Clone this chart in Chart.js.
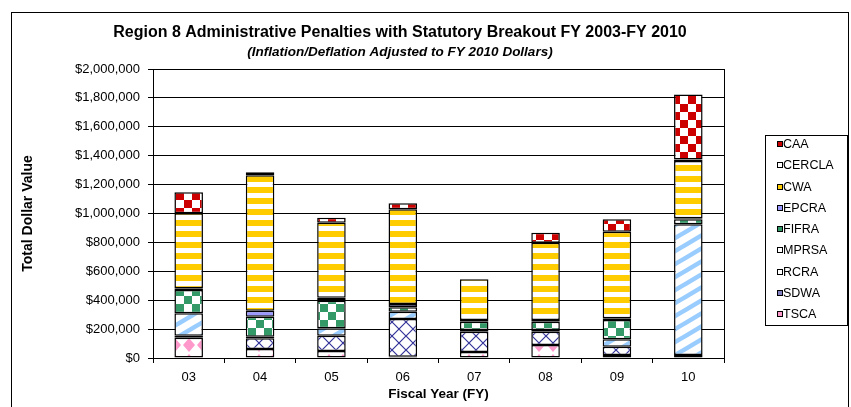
<!DOCTYPE html>
<html>
<head>
<meta charset="utf-8">
<script src="https://cdn.jsdelivr.net/npm/chart.js@4.4.0/dist/chart.umd.min.js"></script>
<style>
  html, body { margin: 0; padding: 0; background: #fff; }
</style>
</head>
<body>
<canvas id="chart-penalties" width="851" height="407"></canvas>
<script>
// Valores (dolares ajustados a FY 2010)
const years = ['03', '04', '05', '06', '07', '08', '09', '10']
const tsca   = [140000,  62000,  48000,   8000,  42000,  90000,  20000,   3000]
const sdwa   = [ 14000,  74000, 106000, 262000, 140000,  92000,  58000,  18000]
const rcra   = [155000,  11000,  52000,  50000,  12000,  12000,  51000, 904000]
const mprsa  = [     0,      0,      0,      0,      0,      0,      0,      0]
const fifra  = [162000, 139000, 191000,  31000,  57000,  57000, 134000,  35000]
const epcra  = [ 11000,  41000,  20000,  23000,  12000,  12000,  12000,   7000]
const cwa    = [519000, 938000, 519000, 655000, 282000, 535000, 599000, 396000]
const cercla = [     0,      0,      0,      0,      0,      0,      0,  10000]
const caa    = [146000,  20000,  35000,  42000,      0,  69000,  86000, 450000]
const yTicks = [0, 200000, 400000, 600000, 800000, 1000000, 1200000, 1400000, 1600000, 1800000, 2000000]

const FONT = '"Liberation Sans", Arial, sans-serif'
const canvas = document.getElementById('chart-penalties')
const mainCtx = canvas.getContext('2d')

// patrones tipo Excel
function pattern(w, h, draw) {
  const c = document.createElement('canvas')
  c.width = w
  c.height = h
  const g = c.getContext('2d')
  g.fillStyle = '#fff'
  g.fillRect(0, 0, w, h)
  draw(g, w, h)
  return mainCtx.createPattern(c, 'repeat')
}
function checker(color, s) {
  return pattern(s * 2, s * 2, g => {
    g.fillStyle = color
    g.fillRect(0, 0, s, s)
    g.fillRect(s, s, s, s)
  })
}
const pTsca = pattern(14, 16, g => {
  g.fillStyle = '#FF99CC'
  g.beginPath()
  g.moveTo(7, 2); g.lineTo(13, 9); g.lineTo(7, 16); g.lineTo(1, 9); g.closePath()
  g.fill()
})
const pSdwa = pattern(14, 14, g => {
  g.strokeStyle = '#333399'
  g.lineWidth = 1.2
  g.beginPath()
  g.moveTo(0, 0); g.lineTo(14, 14)
  g.moveTo(0, 14); g.lineTo(14, 0)
  g.stroke()
})
const pRcra = pattern(22, 13, (g, w, h) => {
  g.strokeStyle = '#99CCFF'
  g.lineWidth = 4.5
  g.beginPath()
  for (let k = -1; k <= 1; k++) {
    g.moveTo(-w, h * 2 + k * h); g.lineTo(w * 2, -h + k * h)
  }
  g.stroke()
})
const pCwa = pattern(4, 11, g => {
  g.fillStyle = '#FFCC00'
  g.fillRect(0, 0, 4, 6)
})

const series = [
  { label: 'TSCA',   data: tsca,   bg: pTsca,                  icon: '#FF99CC' },
  { label: 'SDWA',   data: sdwa,   bg: pSdwa,                  icon: '#8080C0' },
  { label: 'RCRA',   data: rcra,   bg: pRcra,                  icon: '#FFFFFF' },
  { label: 'MPRSA',  data: mprsa,  bg: '#FFFFFF',              icon: '#FFFFFF' },
  { label: 'FIFRA',  data: fifra,  bg: checker('#339966', 8),  icon: '#339966' },
  { label: 'EPCRA',  data: epcra,  bg: '#9999FF',              icon: '#9999FF' },
  { label: 'CWA',    data: cwa,    bg: pCwa,                   icon: '#FFCC00' },
  { label: 'CERCLA', data: cercla, bg: '#FFFFFF',              icon: '#FFFFFF' },
  { label: 'CAA',    data: caa,    bg: checker('#CC0000', 8),  icon: '#CC0000' }
]

// leyenda y marco dibujados a mano, como en el original
const extras = {
  id: 'extras',
  afterDraw(chart) {
    const ctx = chart.ctx
    ctx.save()
    ctx.strokeStyle = '#000'
    ctx.lineWidth = 1
    ctx.strokeRect(765.5, 135.5, 82, 190)
    ctx.font = '12.5px ' + FONT
    ctx.textBaseline = 'middle'
    ctx.textAlign = 'left'
    const items = chart.data.datasets.slice().reverse()
    items.forEach((ds, i) => {
      const y = Math.round(145 + i * 21.25)
      ctx.fillStyle = ds.iconColor
      ctx.fillRect(777.5, y - 3.5, 5, 5)
      ctx.strokeRect(777.5, y - 3.5, 5, 5)
      ctx.fillStyle = '#000'
      ctx.fillText(ds.label, 783, y)
    })
    ctx.strokeRect(11.5, 12.5, 837, 420)
    ctx.restore()
  }
}

new Chart(canvas, {
  type: 'bar',
  data: {
    labels: years,
    datasets: series.map(s => ({
      label: s.label,
      data: s.data,
      backgroundColor: s.bg,
      iconColor: s.icon,
      borderColor: '#000',
      borderWidth: 1.5,
      borderSkipped: false,
      categoryPercentage: 1,
      barPercentage: 0.4
    }))
  },
  options: {
    responsive: false,
    animation: false,
    layout: { padding: { top: 12, left: 12, right: 63, bottom: 0 } },
    plugins: {
      legend: { display: false },
      tooltip: { enabled: false },
      title: {
        display: true,
        text: 'Region 8 Administrative Penalties with Statutory Breakout FY 2003-FY 2010',
        color: '#000',
        font: { family: FONT, size: 16, weight: 'bold' },
        padding: { top: 11.4, bottom: 0 }
      },
      subtitle: {
        display: true,
        text: '(Inflation/Deflation Adjusted to FY 2010 Dollars)',
        color: '#000',
        font: { family: FONT, size: 13.5, weight: 'bold', style: 'italic' },
        padding: { top: 1.3, bottom: 8.9 }
      }
    },
    scales: {
      x: {
        stacked: true,
        offset: true,
        grid: { offset: true, drawOnChartArea: false, tickLength: 5, color: '#000' },
        border: { color: '#000' },
        ticks: { color: '#000', font: { family: FONT, size: 13 }, padding: 7 },
        title: {
          display: true,
          text: 'Fiscal Year (FY)',
          color: '#000',
          font: { family: FONT, size: 13.5, weight: 'bold' },
          padding: { top: 0, bottom: 4.5 }
        },
        afterFit: s => { s.height = 49 }
      },
      y: {
        stacked: true,
        min: 0,
        max: 2000000,
        afterBuildTicks: s => { s.ticks = yTicks.map(v => ({ value: v })) },
        ticks: {
          color: '#000',
          font: { family: FONT, size: 13 },
          padding: 8,
          callback: v => '$' + v.toLocaleString('en-US')
        },
        grid: { color: '#000', tickLength: 5 },
        border: { color: '#000' },
        title: {
          display: true,
          text: 'Total Dollar Value',
          color: '#000',
          font: { family: FONT, size: 14, weight: 'bold' },
          padding: { top: 8, bottom: 0 }
        },
        afterFit: s => { s.width = 141 }
      },
      y2: {
        position: 'right',
        grid: { display: false },
        ticks: { display: false },
        border: { color: '#000' },
        afterFit: s => { s.width = 64 }
      }
    }
  },
  plugins: [extras]
})
</script>
</body>
</html>
